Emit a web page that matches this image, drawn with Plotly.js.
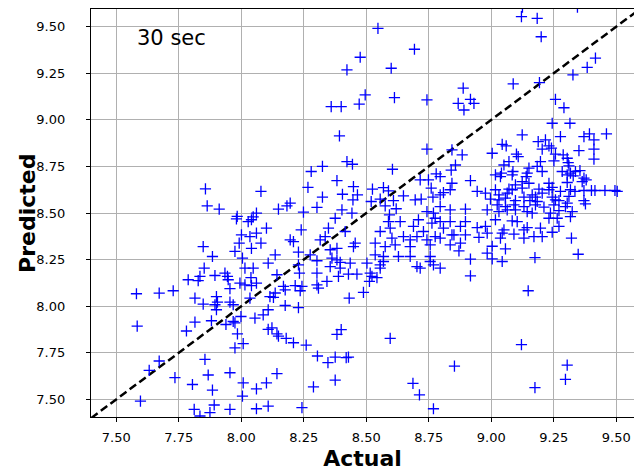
<!DOCTYPE html>
<html>
<head>
<meta charset="utf-8">
<script src="https://cdn.plot.ly/plotly-3.0.1.min.js"></script>
<style>
  html, body { margin: 0; padding: 0; background: #fff; }
  #chart { width: 634px; height: 471px; }
</style>
</head>
<body>
<div id="chart"></div>
<script>
// Actual vs predicted values, 30 second window
const actual = [
  8.547,8.693,8.476,8.423,8.600,8.496,8.613,8.743,8.360,8.400,8.472,8.888,8.868,8.917,8.931,8.891,9.121,9.184,9.200,9.125,9.345,9.088,9.193,9.327,9.384,9.417,9.257,9.291,
  7.857,7.864,7.912,8.079,7.984,8.061,8.048,
  8.393,8.743,8.843,8.280,8.325,8.423,8.445,8.605,8.840,8.267,8.383,8.449,8.405,8.465,8.325,8.447,8.525,8.569,8.589,8.649,8.716,8.749,8.780,8.796,8.760,8.767,8.796,8.809,8.696,8.720,8.843,8.836,8.520,8.556,8.609,8.576,8.620,8.149,8.196,8.183,8.249,8.303,8.403,8.443,8.593,8.743,8.769,8.796,8.836,
  9.244,9.315,9.124,9.277,9.371,9.393,9.411,9.461,9.044,9.060,9.188,9.217,9.204,9.231,9.241,9.411,9.351,9.004,9.101,9.108,9.257,9.288,9.304,9.251,9.411,8.884,9.071,9.197,9.308,8.857,9.051,9.151,9.184,9.311,9.041,9.087,9.144,9.204,9.284,9.317,9.337,9.355,9.017,9.037,9.084,9.140,9.304,9.328,9.371,9.380,8.917,9.364,9.124,9.097,9.151,9.231,9.304,9.071,9.124,9.191,9.231,9.244,9.277,9.317,9.335,9.371,9.401,9.415,9.455,9.495,9.504,8.944,8.977,9.017,9.031,9.064,9.084,9.164,9.177,9.204,9.244,9.257,9.311,8.997,9.031,9.057,9.097,9.131,9.155,9.184,9.271,9.304,9.371,9.377,9.024,9.057,9.091,9.131,9.177,9.211,9.251,9.297,8.897,8.984,9.031,9.064,9.097,9.144,9.164,9.237,9.271,9.324,
  8.897,8.877,8.944,8.977,9.017,9.084,9.104,9.051,9.144,9.197,9.231,9.271,9.264,9.317,8.851,8.897,8.951,8.984,9.044,9.037,9.091,9.131,9.131,9.171,9.204,9.244,9.321,8.877,8.871,9.004,9.057,8.984,8.917,9.004,9.044,9.175,9.348,8.917,9.148,
  7.981,8.028,8.041,8.101,8.001,8.035,8.061,7.992,8.041,8.079,7.848,7.975,7.885,8.005,8.108,7.852,8.015,8.048,7.895,7.935,7.945,8.039,7.835,7.788,7.828,7.948,7.995,8.015,8.041,8.061,7.955,7.581,7.672,7.728,7.815,7.848,7.901,7.905,7.895,7.955,7.968,7.901,8.035,8.115,8.108,8.088,7.999,8.055,7.968,7.815,7.881,
  7.584,7.781,7.939,7.975,7.985,7.975,8.008,8.108,7.672,7.632,7.735,7.855,7.868,7.955,7.805,7.885,8.008,8.061,8.101,8.005,7.597,7.812,7.892,7.875,7.835,7.955,8.061,8.108,
  8.123,8.143,8.149,8.180,8.209,8.260,8.305,8.347,8.376,8.420,8.429,8.383,8.400,8.596,8.143,8.289,8.376,8.687,8.713,8.243,8.769,8.853,
  9.121,9.304,9.297,9.175,
  8.376,8.349,8.240,8.196,8.209,8.316,8.336,8.416,8.456,8.449,8.229,8.276,8.356,8.383,8.136,8.303,8.363,8.383,8.396,8.436,8.229,8.356,8.396,8.143,8.233,8.303,8.389,8.429,8.463,8.343,8.169,8.216,8.243,8.303,8.309,8.136,8.176,8.236,8.129,8.176,8.229,8.432,8.489,8.503,8.516,8.523,8.543,8.513,8.556,8.569,8.556,8.536,8.569,8.556,8.536,8.576,8.596,8.603,8.616,8.589,8.636,8.649,8.629,8.676,8.676,8.676,8.689,8.703,8.709,8.729,8.756,8.743,8.703,8.716,8.756,8.769,8.796,8.763,8.776,8.796,8.809,8.776,8.796,8.836,8.843,8.836,8.756
];
const predicted = [
  9.491,9.379,9.336,9.268,9.277,9.134,9.119,9.107,9.071,9.071,9.085,9.170,9.089,9.110,9.089,9.053,9.554,9.545,9.446,9.605,9.605,9.193,9.200,9.241,9.282,9.331,9.110,9.065,
  8.630,8.539,8.521,8.616,8.482,8.500,8.480,
  8.914,8.843,8.839,8.723,8.750,8.776,8.762,8.735,8.730,8.638,8.674,8.642,8.601,8.598,8.585,8.571,8.628,8.637,8.619,8.592,8.678,8.678,8.710,8.696,8.634,8.585,8.598,8.610,8.571,8.575,8.660,8.625,8.562,8.575,8.567,8.539,8.523,8.521,8.553,8.539,8.505,8.530,8.517,8.500,8.490,8.508,8.500,8.535,8.517,
  8.982,8.982,8.919,8.910,8.910,8.925,8.893,8.925,8.869,8.860,8.883,8.893,8.843,8.860,8.848,8.843,8.835,8.821,8.816,8.803,8.816,8.812,8.794,8.780,8.789,8.812,8.776,8.776,8.771,8.758,8.758,8.741,8.750,8.753,8.714,8.723,8.714,8.723,8.723,8.714,8.723,8.728,8.705,8.696,8.705,8.696,8.705,8.700,8.687,8.678,8.674,8.669,8.669,8.651,8.660,8.660,8.664,8.628,8.634,8.628,8.625,8.638,8.616,8.625,8.616,8.621,8.621,8.621,8.621,8.621,8.616,8.616,8.607,8.625,8.598,8.607,8.625,8.598,8.585,8.607,8.585,8.571,8.589,8.575,8.571,8.580,8.567,8.585,8.567,8.562,8.567,8.553,8.567,8.549,8.544,8.535,8.544,8.535,8.544,8.532,8.544,8.535,8.521,8.517,8.508,8.517,8.517,8.508,8.500,8.500,8.513,8.508,
  8.454,8.428,8.422,8.428,8.464,8.458,8.454,8.410,8.422,8.419,8.472,8.428,8.472,8.481,8.383,8.383,8.369,8.392,8.392,8.366,8.387,8.410,8.366,8.374,8.374,8.397,8.366,8.339,8.297,8.322,8.308,8.285,8.253,8.254,8.240,8.261,8.279,8.163,8.083,
  8.469,8.454,8.464,8.419,8.383,8.374,8.392,8.339,8.311,8.339,8.320,8.294,8.267,8.258,8.231,8.205,8.205,8.205,8.165,8.178,8.160,8.154,8.160,8.142,8.137,8.142,8.124,8.115,8.111,8.124,8.094,8.067,8.070,8.083,8.044,8.011,8.052,8.022,8.008,8.022,8.008,7.981,8.044,8.052,7.981,7.954,7.945,7.936,7.918,7.915,7.922,
  7.893,7.867,7.902,7.911,7.852,7.777,7.799,7.876,7.706,7.656,7.617,7.715,7.631,7.643,7.580,7.550,7.589,7.557,7.589,7.518,7.491,7.446,7.470,7.429,7.411,7.446,7.450,7.464,
  7.884,7.852,7.840,7.827,7.804,7.791,7.733,7.697,7.727,7.724,7.727,7.849,7.875,7.827,7.638,7.567,7.604,7.586,7.524,7.456,7.450,7.679,
  7.794,7.684,7.607,7.563,
  8.472,8.419,8.410,8.356,8.347,8.356,8.374,8.401,8.339,8.320,8.290,8.276,8.303,8.311,8.276,8.244,8.258,8.249,8.235,8.231,8.222,8.213,8.205,8.169,8.178,8.178,8.160,8.172,8.172,8.133,8.107,8.111,8.107,8.115,8.097,8.071,8.088,8.083,8.047,8.004,7.993,8.044,8.074,8.231,8.178,8.160,8.154,8.133,8.205,8.240,8.222,8.276,8.267,8.401,8.339,8.320,8.419,8.366,8.329,8.454,8.454,8.374,8.267,8.267,8.320,8.356,8.428,8.374,8.464,8.401,8.329,8.356,8.213,8.205,8.240,8.222,8.205,8.446,8.472,8.454,8.419,8.374,8.366,8.454,8.383,8.329,8.267
];

// Reference line y = x across the visible range
const identityLine = [7.4, 9.6];

const tickVals = [7.5, 7.75, 8.0, 8.25, 8.5, 8.75, 9.0, 9.25, 9.5];
const tickText = ['7.50', '7.75', '8.00', '8.25', '8.50', '8.75', '9.00', '9.25', '9.50'];

const axisCommon = {
  tickvals: tickVals,
  ticktext: tickText,
  showgrid: true,
  gridcolor: '#b0b0b0',
  gridwidth: 1,
  zeroline: false,
  showline: true,
  linecolor: '#000',
  linewidth: 1.2,
  mirror: true,
  ticks: 'outside',
  ticklen: 4,
  tickwidth: 1,
  tickcolor: '#000',
  tickfont: { family: 'DejaVu Sans', size: 13, color: '#000' }
};

const titleFont = { family: 'DejaVu Sans', size: 22, color: '#000', weight: 'bold' };

const traces = [
  {
    x: identityLine,
    y: identityLine,
    mode: 'lines',
    type: 'scatter',
    line: { color: '#000', width: 2.5, dash: '8px,4px' },
    hoverinfo: 'skip',
    showlegend: false
  },
  {
    x: actual,
    y: predicted,
    mode: 'markers',
    type: 'scatter',
    marker: {
      symbol: 'cross-thin',
      size: 8,
      color: '#0000ff',
      line: { color: '#0000ff', width: 1.3 }
    },
    showlegend: false
  }
];

const layout = {
  width: 634,
  height: 471,
  margin: { l: 91, r: 0, t: 9, b: 54 },
  paper_bgcolor: '#fff',
  plot_bgcolor: '#fff',
  xaxis: Object.assign({}, axisCommon, {
    range: [7.3992, 9.5712],
    ticklabelstandoff: 4,
    title: { text: 'Actual', font: titleFont, standoff: 8 }
  }),
  yaxis: Object.assign({}, axisCommon, {
    range: [7.4056, 9.595],
    ticklabelstandoff: 18
  }),
  annotations: [
    {
      text: '30 sec',
      xref: 'paper', yref: 'paper',
      x: 0.081, y: 0.929,
      xanchor: 'left', yanchor: 'middle',
      showarrow: false,
      font: { family: 'DejaVu Sans', size: 21, color: '#000' }
    },
    {
      // y-axis title placed by hand for finer horizontal control
      text: '<b>Predicted</b>',
      xref: 'paper', yref: 'paper',
      x: -0.118, y: 0.5,
      xanchor: 'center', yanchor: 'middle',
      textangle: -90,
      showarrow: false,
      font: titleFont
    }
  ]
};

Plotly.newPlot('chart', traces, layout, { displayModeBar: false, staticPlot: true });
</script>
</body>
</html>
